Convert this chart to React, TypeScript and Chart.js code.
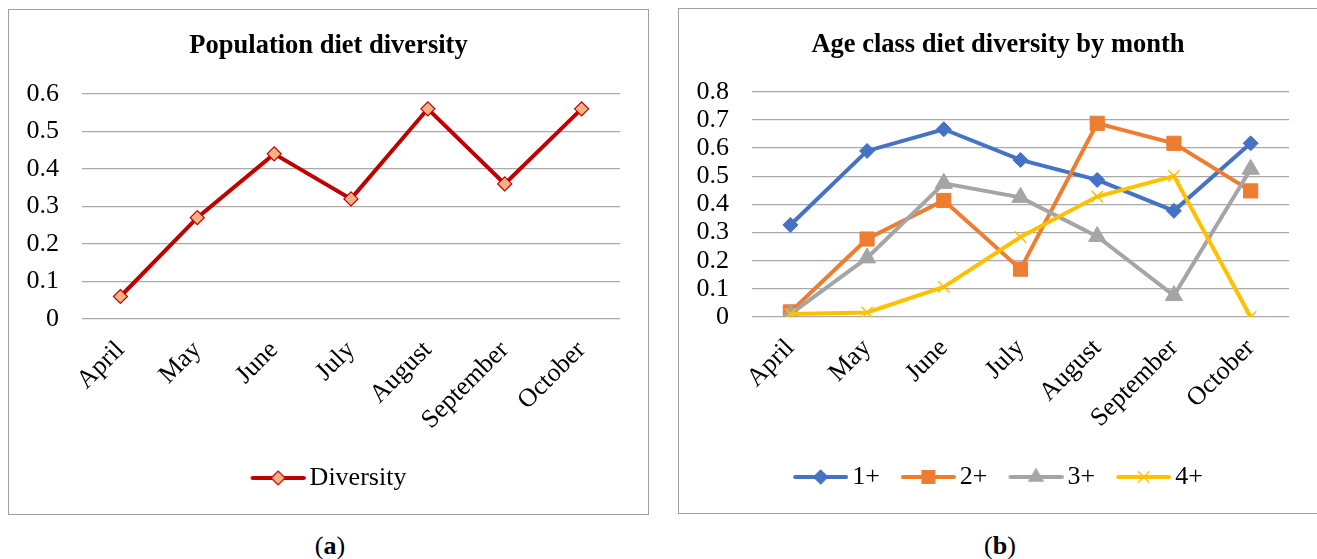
import React, { useEffect, useRef } from "react";
import { Chart, registerables } from "chart.js";

Chart.register(...registerables);

// ---- data ----
const months = ["April", "May", "June", "July", "August", "September", "October"];
const diversity = [0.06, 0.27, 0.44, 0.32, 0.56, 0.36, 0.56];
const age1 = [0.327, 0.59, 0.667, 0.558, 0.487, 0.377, 0.617];
const age2 = [0.018, 0.277, 0.414, 0.17, 0.688, 0.617, 0.448];
const age3 = [0.01, 0.21, 0.475, 0.425, 0.286, 0.076, 0.525];
const age4 = [0.011, 0.016, 0.107, 0.284, 0.428, 0.501, 0.0];
const seriesNames = ["1+", "2+", "3+", "4+"];
const titleA = "Population diet diversity";
const titleB = "Age class diet diversity by month";
const yTicksA = [0, 0.1, 0.2, 0.3, 0.4, 0.5, 0.6];
const yTicksB = [0, 0.1, 0.2, 0.3, 0.4, 0.5, 0.6, 0.7, 0.8];

const FONT = "'Liberation Serif', 'Times New Roman', serif";
const GRID = "#aaaaaa";

type Kind = "diamond" | "square" | "triangle" | "x";

function makeIcon(kind: Kind, stroke: string, fill: string, markerStroke: string) {
  const c = document.createElement("canvas");
  c.width = 64;
  c.height = 26;
  const ctx = c.getContext("2d")!;
  ctx.strokeStyle = stroke;
  ctx.lineWidth = 4;
  ctx.lineCap = "round";
  ctx.beginPath();
  ctx.moveTo(11, 13);
  ctx.lineTo(62, 13);
  ctx.stroke();
  const cx = 36.5;
  const cy = 13;
  ctx.fillStyle = fill;
  ctx.strokeStyle = markerStroke;
  ctx.lineWidth = 1.2;
  ctx.lineCap = "butt";
  if (kind === "diamond") {
    const r = 7;
    ctx.beginPath();
    ctx.moveTo(cx - r, cy);
    ctx.lineTo(cx, cy - r);
    ctx.lineTo(cx + r, cy);
    ctx.lineTo(cx, cy + r);
    ctx.closePath();
    ctx.fill();
    ctx.stroke();
  } else if (kind === "square") {
    const h = 7;
    ctx.fillRect(cx - h, cy - h, 2 * h, 2 * h);
  } else if (kind === "triangle") {
    const r = 9.5;
    ctx.beginPath();
    ctx.moveTo(cx, cy - r);
    ctx.lineTo(cx + r * 0.866, cy + r / 2);
    ctx.lineTo(cx - r * 0.866, cy + r / 2);
    ctx.closePath();
    ctx.fill();
  } else {
    const r = 8 * 0.707;
    ctx.lineWidth = 1.5;
    ctx.beginPath();
    ctx.moveTo(cx - r, cy - r);
    ctx.lineTo(cx + r, cy + r);
    ctx.moveTo(cx + r, cy - r);
    ctx.lineTo(cx - r, cy + r);
    ctx.stroke();
  }
  return c;
}

function baseOptions(
  title: string,
  yTicks: number[],
  padBottomTitle: number,
  xHeight: number,
  icons: HTMLCanvasElement[],
  names: string[]
) {
  return {
    responsive: false,
    animation: false as const,
    layout: { padding: { left: 0, right: 0, top: 0, bottom: 13 } },
    plugins: {
      title: {
        display: true,
        text: title,
        color: "#000",
        font: { family: FONT, size: 26.5, weight: "bold" as const, lineHeight: 1.2 },
        padding: { top: 20, bottom: padBottomTitle },
      },
      legend: {
        position: "bottom" as const,
        labels: {
          usePointStyle: true,
          pointStyleWidth: 46,
          boxHeight: 26,
          padding: 21,
          color: "#000",
          font: { family: FONT, size: 26 },
          generateLabels: () =>
            names.map((n, i) => ({
              text: n,
              pointStyle: icons[i],
              fillStyle: "transparent",
              strokeStyle: "transparent",
              lineWidth: 0,
              hidden: false,
              datasetIndex: i,
              fontColor: "#000",
            })),
        },
      },
      tooltip: { enabled: false },
    },
    scales: {
      x: {
        type: "category" as const,
        offset: true,
        grid: { display: false },
        border: { display: false },
        ticks: {
          color: "#000",
          font: { family: FONT, size: 26 },
          minRotation: 45,
          maxRotation: 45,
          padding: 8,
          autoSkip: false,
        },
        afterFit: (s: any) => {
          s.height = xHeight;
        },
      },
      y: {
        min: yTicks[0],
        max: yTicks[yTicks.length - 1],
        grid: { color: GRID, lineWidth: 1.3, drawTicks: false },
        border: { display: false },
        ticks: {
          padding: 23,
          autoSkip: false,
          color: "#000",
          font: { family: FONT, size: 26, lineHeight: 1 },
          callback: (v: any) => String(Number(Number(v).toFixed(1))),
        },
        afterBuildTicks: (s: any) => {
          s.ticks = yTicks.map((v) => ({ value: v }));
        },
        afterFit: (s: any) => {
          s.width = 73;
        },
      },
      yRight: {
        position: "right" as const,
        display: true,
        min: 0,
        max: 1,
        grid: { display: false, drawTicks: false },
        border: { display: false },
        ticks: { display: false },
        afterFit: (s: any) => {
          s.width = 28;
        },
      },
    },
  };
}

function ChartA() {
  const ref = useRef<HTMLCanvasElement>(null);
  useEffect(() => {
    const icons = [makeIcon("diamond", "#C00000", "#F4B183", "#C00000")];
    const chart = new Chart(ref.current!, {
      type: "line",
      data: {
        labels: months,
        datasets: [
          {
            label: "Diversity",
            data: diversity,
            yAxisID: "y",
            borderColor: "#C00000",
            borderWidth: 4,
            pointStyle: "rectRot",
            pointRadius: 7,
            pointBackgroundColor: "#F4B183",
            pointBorderColor: "#C00000",
            pointBorderWidth: 1.2,
            tension: 0,
          },
        ],
      },
      options: baseOptions(titleA, yTicksA, 32, 125, icons, ["Diversity"]) as any,
    });
    return () => chart.destroy();
  }, []);
  return <canvas ref={ref} width={639} height={504} style={{ display: "block" }} />;
}

function ChartB() {
  const ref = useRef<HTMLCanvasElement>(null);
  useEffect(() => {
    const icons = [
      makeIcon("diamond", "#4472C4", "#4472C4", "#4472C4"),
      makeIcon("square", "#ED7D31", "#ED7D31", "#ED7D31"),
      makeIcon("triangle", "#A5A5A5", "#A5A5A5", "#A5A5A5"),
      makeIcon("x", "#FFC000", "#FFC000", "#FFC000"),
    ];
    const colors = ["#4472C4", "#ED7D31", "#A5A5A5", "#FFC000"];
    const data = [age1, age2, age3, age4];
    const styles = ["rectRot", "rect", "triangle", "crossRot"];
    const radii = [7.5, 10, 10, 8];
    const chart = new Chart(ref.current!, {
      type: "line",
      data: {
        labels: months,
        datasets: data.map((d, i) => ({
          label: seriesNames[i],
          data: d,
          yAxisID: "y",
          borderColor: colors[i],
          borderWidth: 4,
          pointStyle: styles[i] as any,
          pointRadius: radii[i],
          pointBackgroundColor: colors[i],
          pointBorderColor: colors[i],
          pointBorderWidth: i === 3 ? 1.5 : 1,
          tension: 0,
          order: 4 - i,
        })),
      },
      options: baseOptions(titleB, yTicksB, 31, 126, icons, seriesNames) as any,
    });
    return () => chart.destroy();
  }, []);
  return <canvas ref={ref} width={638} height={504} style={{ display: "block" }} />;
}

export default function App() {
  const box: React.CSSProperties = {
    position: "absolute",
    border: "1.3px solid #a0a0a0",
    boxSizing: "border-box",
    background: "#fff",
  };
  const cap: React.CSSProperties = {
    position: "absolute",
    width: 100,
    textAlign: "center",
    fontFamily: FONT,
    fontSize: 26,
    lineHeight: "26px",
    color: "#000",
    top: 533,
  };
  return (
    <div style={{ position: "fixed", left: 0, top: 0, width: 1317, height: 559, overflow: "hidden", background: "#fff" }}>
      <div style={{ ...box, left: 8, top: 9, width: 641, height: 506 }}>
        <ChartA />
      </div>
      <div style={{ ...box, left: 678, top: 8, width: 640, height: 506 }}>
        <ChartB />
      </div>
      <div style={{ ...cap, left: 280 }}>
        (<b>a</b>)
      </div>
      <div style={{ ...cap, left: 950 }}>
        (<b>b</b>)
      </div>
    </div>
  );
}
